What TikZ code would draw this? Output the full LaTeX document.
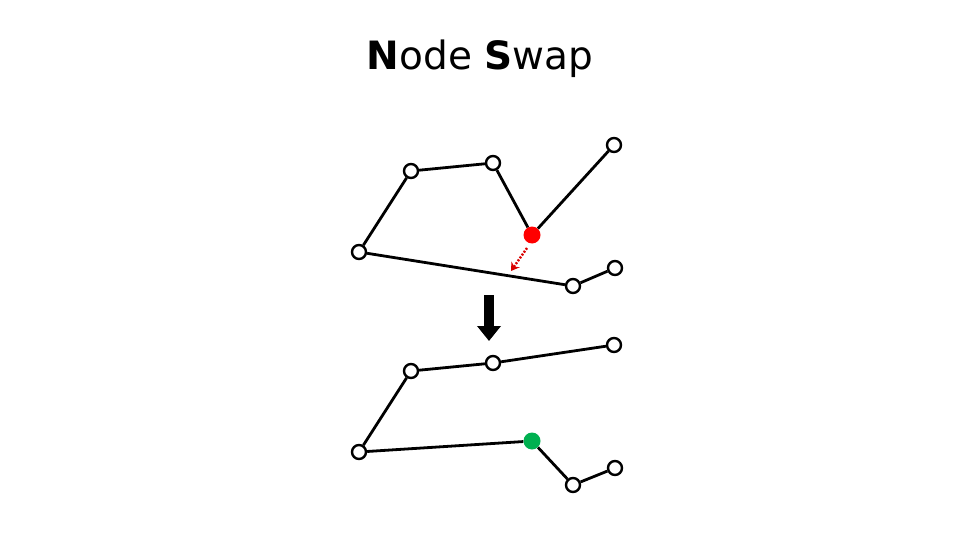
\documentclass[tikz,border=0pt]{standalone}
\usepackage{fontspec}
\setmainfont{DejaVu Sans}
\usetikzlibrary{positioning,arrows.meta}
\definecolor{swapgreen}{RGB}{0,176,80}
\tikzset{
      pt/.style={circle,draw,line width=2.4pt,fill=white,inner sep=0pt,minimum size=14pt},
      hot/.style={circle,fill=red,inner sep=0pt,minimum size=17pt},
      done/.style={circle,fill=swapgreen,inner sep=0pt,minimum size=17pt},
      edge/.style={line width=2.8pt}
    }
\begin{document}
\begin{tikzpicture}[x=1pt,y=-1pt]
\useasboundingbox (0,0) rectangle (960,540);
\node[font=\fontsize{39}{46}\selectfont] (title) at (480,59) {\textbf{N}ode \textbf{S}wap};
% before
\foreach \n/\x/\y in {a/359/252, b/411/171, c/493/163, d/614/145, e/573/286, f/615/268}
\node[pt] (\n) at (\x,\y) {};
\node[hot] (r) at (532,235) {};
% after
\foreach \n/\x/\y in {a2/359/452, b2/411/371, c2/493/363, d2/614/345, e2/573/485, f2/615/468}
\node[pt] (\n) at (\x,\y) {};
\node[done] (g) at (532,441) {};
\draw[edge] (a) -- (b) -- (c) -- (r) -- (d);
\draw[edge] (a) -- (e) -- (f);
\draw[edge] (a2) -- (b2) -- (c2) -- (d2);
\draw[edge] (a2) -- (g) -- (e2) -- (f2);
% moves
\coordinate (m1) at (527,248);
\coordinate (m2) at (511,271);
\draw[red!85!black,line width=2.4pt,dash pattern=on 2pt off 1.5pt,-{Stealth[length=8pt,width=10pt]}] (m1) -- (m2);
\coordinate (s1) at (489,295);
\coordinate (s2) at (489,341);
\draw[line width=10pt,-{Triangle[length=15pt,width=23pt]}] (s1) -- (s2);
\end{tikzpicture}
\end{document}
